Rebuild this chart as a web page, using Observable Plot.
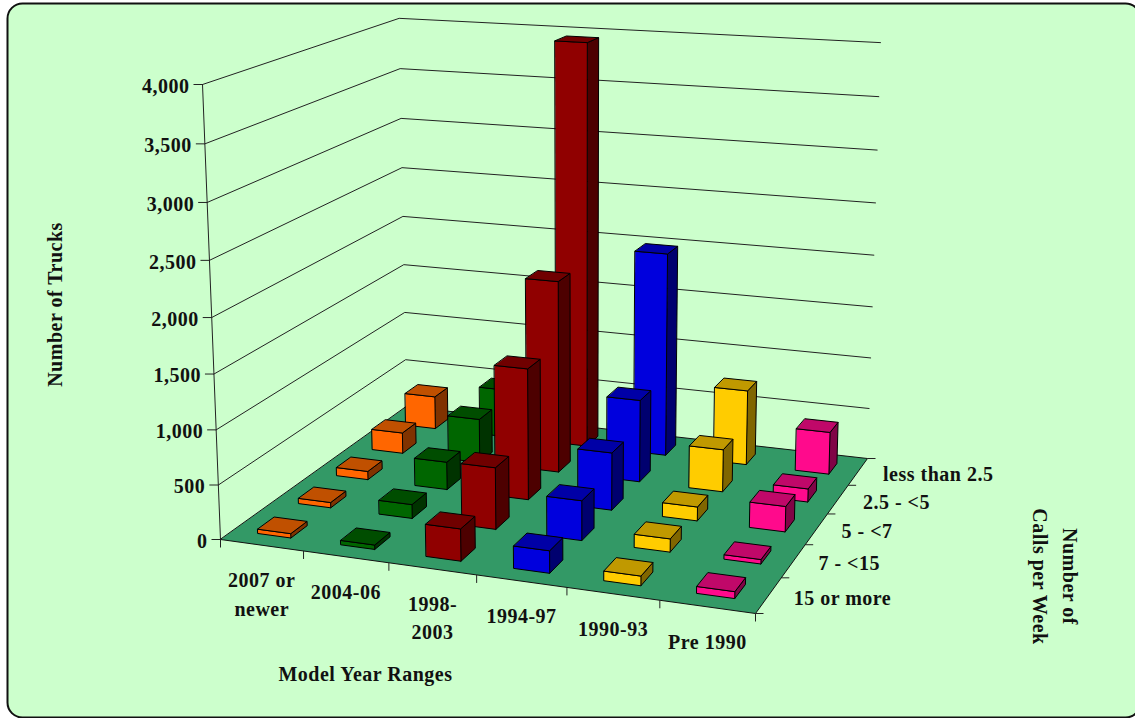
<!DOCTYPE html>
<html>
<head>
<meta charset="utf-8">
<style>
  html, body { margin: 0; padding: 0; background: #fff; }
  svg { display: block; }
  svg text { letter-spacing: 0.5px; }
</style>
<script src="https://cdn.jsdelivr.net/npm/d3@7"></script>
<script src="https://cdn.jsdelivr.net/npm/@observablehq/plot@0.6"></script>
</head>
<body>
<div id="chart"></div>
<script>
// Categories along the two floor axes (front row of calls first).
const modelYears = ["2007 or\nnewer", "2004-06", "1998-\n2003", "1994-97", "1990-93", "Pre 1990"];
const callBands = ["15 or more", "7 - <15", "5 - <7", "2.5 - <5", "less than 2.5"];
const truckTicks = [0, 500, 1000, 1500, 2000, 2500, 3000, 3500, 4000];

// Trucks per model-year range, in callBands order.
const trucks2007 = [40, 50, 80, 205, 330];
const trucks2004 = [40, 130, 265, 430, 480];
const trucks1998 = [290, 570, 1240, 1850, 3950];
const trucks1994 = [200, 365, 540, 790, 1990];
const trucks1990 = [85, 120, 130, 405, 730];
const trucksPre1990 = [60, 40, 235, 125, 410];
const seriesValues = [trucks2007, trucks2004, trucks1998, trucks1994, trucks1990, trucksPre1990];

// Front, top and side shades of each model-year range.
const frontColors = ["#ff6600", "#006600", "#900000", "#0000dd", "#ffcc00", "#ff0a8c"];
const topColors = ["#c05000", "#004d00", "#700000", "#0000a6", "#c09900", "#c00869"];
const sideColors = ["#803300", "#003300", "#4d0000", "#00006f", "#806600", "#800546"];

const W = 1135, H = 718;

// Plot scales map categories and truck counts to unit cube coordinates.
const uScale = Plot.scale({x: {type: "band", domain: modelYears, range: [0, 1], paddingInner: 0.6, paddingOuter: 0.3}});
const vScale = Plot.scale({x: {type: "band", domain: callBands, range: [0, 1], paddingInner: 0.6, paddingOuter: 0.3}});
const zScale = Plot.scale({y: {type: "linear", domain: [0, 4000], range: [0, 1]}});

// Perspective camera: the floor is a homography of the unit square, and the
// vertical axis is fixed by where the wall's top corners land.
const camera = (() => {
  const [p0, p1, p2, p3] = [[220, 539], [755, 613], [867, 458], [406, 406]];
  const top0 = [202, 84], top2 = [880, 43.7];
  const dx1 = p1[0] - p2[0], dx2 = p3[0] - p2[0], sx = p0[0] - p1[0] + p2[0] - p3[0];
  const dy1 = p1[1] - p2[1], dy2 = p3[1] - p2[1], sy = p0[1] - p1[1] + p2[1] - p3[1];
  const den = dx1 * dy2 - dx2 * dy1;
  const g = (sx * dy2 - dx2 * sy) / den, h = (dx1 * sy - sx * dy1) / den;
  const a = p1[0] - p0[0] + g * p1[0], b = p3[0] - p0[0] + h * p3[0], c = p0[0];
  const d = p1[1] - p0[1] + g * p1[1], e = p3[1] - p0[1] + h * p3[1], f = p0[1];
  const w = g + h + 1;
  const r = (w * (p2[0] - top2[0]) + top0[0] - p0[0]) / (top2[0] - top0[0]);
  const p = top0[0] * (1 + r) - p0[0];
  const q = top0[1] * (1 + r) - p0[1];
  return {a, b, c, d, e, f, g, h, p, q, r};
})();

function project(u, v, z = 0) {
  const {a, b, c, d, e, f, g, h, p, q, r} = camera;
  const den = g * u + h * v + 1 + r * z;
  return {x: (a * u + b * v + c + p * z) / den, y: (d * u + e * v + f + q * z) / den};
}

function polygon(id, fill, corners) {
  return corners.map(([u, v, z]) => ({id, fill, ...project(u, v, z)}));
}

// Bars are painted back row first and left to right, so nearer bars cover farther ones.
const bw = uScale.bandwidth, bd = vScale.bandwidth;
const barFaces = [];
d3.range(callBands.length - 1, -1, -1).forEach((row) => {
  modelYears.forEach((year, col) => {
    const u0 = uScale.apply(year), u1 = u0 + bw;
    const v0 = vScale.apply(callBands[row]), v1 = v0 + bd;
    const z = zScale.apply(seriesValues[col][row]);
    const id = `${row}-${col}`;
    barFaces.push(
      ...polygon(id + "side", sideColors[col], [[u1, v0, 0], [u1, v1, 0], [u1, v1, z], [u1, v0, z]]),
      ...polygon(id + "front", frontColors[col], [[u0, v0, 0], [u1, v0, 0], [u1, v0, z], [u0, v0, z]]),
      ...polygon(id + "top", topColors[col], [[u0, v0, z], [u1, v0, z], [u1, v1, z], [u0, v1, z]])
    );
  });
});

const floor = polygon("floor", "#339966", [[0, 0, 0], [1, 0, 0], [1, 1, 0], [0, 1, 0]]);

// Wall lines run up the left wall from the front corner, then along the back wall.
const wallLines = truckTicks.slice(1).flatMap((t) => {
  const z = zScale.apply(t);
  return [[0, 0, z], [0, 1, z], [1, 1, z]].map(([u, v, zz]) => ({t, ...project(u, v, zz)}));
});
const valueAxis = [0, 4000].map((t) => project(0, 0, zScale.apply(t)));

const yTickAnchors = truckTicks.map((t) => ({t, ...project(0, 0, zScale.apply(t))}));
const uTickAnchors = d3.range(modelYears.length + 1).map((i) => project(i / modelYears.length, 0));
const vTickAnchors = d3.range(callBands.length + 1).map((i) => project(1, i / callBands.length));

const yearLabels = modelYears.map((label) => ({label, ...project(uScale.apply(label) + bw / 2, 0)}));
const callLabels = callBands.map((label) => ({label, ...project(1, vScale.apply(label) + bd / 2)}));

const font = {fontFamily: "Liberation Serif", fontWeight: "bold", fontSize: 20, fill: "#111"};

const chart = Plot.plot({
  width: W, height: H, margin: 0,
  style: {background: "#fff"},
  x: {type: "linear", domain: [0, W], range: [0, W], axis: null},
  y: {type: "linear", domain: [0, H], range: [0, H], axis: null},
  color: {type: "identity"},
  marks: [
    Plot.frame({fill: "#ccffcc", stroke: "#111", strokeWidth: 2, rx: 15,
      insetLeft: 7, insetTop: 3, insetRight: -5, insetBottom: 1}),
    Plot.line(wallLines, {x: "x", y: "y", z: "t", stroke: "#222", strokeWidth: 1}),
    Plot.line(valueAxis, {x: "x", y: "y", stroke: "#222", strokeWidth: 1}),
    Plot.line(floor, {x: "x", y: "y", z: "id", fill: "fill", stroke: "#111", strokeWidth: 1, curve: "linear-closed"}),
    Plot.link(yTickAnchors, {x1: (d) => d.x - 9, x2: "x", y1: "y", y2: "y", stroke: "#222", strokeWidth: 1}),
    Plot.link(uTickAnchors, {x1: "x", x2: "x", y1: "y", y2: (d) => d.y + 8, stroke: "#222", strokeWidth: 1}),
    Plot.link(vTickAnchors, {x1: "x", x2: (d) => d.x + 8, y1: "y", y2: "y", stroke: "#222", strokeWidth: 1}),
    Plot.line(barFaces, {x: "x", y: "y", z: "id", fill: "fill", stroke: "#000", strokeWidth: 1, curve: "linear-closed"}),
    Plot.text(yTickAnchors, {x: "x", y: "y", text: (d) => d3.format(",")(d.t), textAnchor: "end", dx: -13, dy: 2, ...font}),
    Plot.text(yearLabels, {x: "x", y: "y", text: "label", textAnchor: "middle", lineAnchor: "top", lineHeight: 1.42, dx: 0, dy: 22, ...font}),
    Plot.text(callLabels, {x: "x", y: "y", text: "label", textAnchor: "start", dx: 25, dy: 3, ...font}),
    Plot.text(["Model Year Ranges"], {x: 365, y: 674, text: (d) => d, ...font}),
    Plot.text(["Number of Trucks"], {x: 55, y: 304, text: (d) => d, rotate: -90, ...font}),
    Plot.text(["Number of\nCalls per Week"], {x: 1057, y: 576, text: (d) => d, rotate: 90, lineHeight: 1.5, ...font})
  ]
});
document.getElementById("chart").append(chart);
</script>
</body>
</html>
